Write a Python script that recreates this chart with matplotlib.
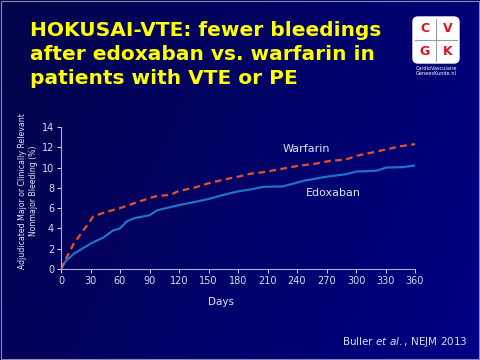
import matplotlib
matplotlib.use("Agg")
import matplotlib.pyplot as plt
import numpy as np
from matplotlib.patches import FancyBboxPatch, Rectangle

# Kaplan-Meier style cumulative incidence (%)
warfarin_days = [0, 6, 13, 22, 30, 33, 45, 60, 75, 90, 98, 111, 120, 135, 150, 165, 180,
                 193, 206, 223, 240, 260, 273, 290, 300, 317, 331, 345, 363]
warfarin_pct = [0.0, 1.2, 2.5, 3.7, 4.8, 5.2, 5.6, 6.0, 6.5, 7.0, 7.2, 7.3, 7.7, 8.0, 8.45,
                8.8, 9.1, 9.4, 9.55, 9.85, 10.15, 10.4, 10.65, 10.8, 11.15, 11.5, 11.8, 12.1, 12.35]

edoxaban_days = [0, 4, 13, 30, 43, 53, 60, 67, 74, 90, 98, 120, 138, 150, 165, 180,
                 193, 206, 226, 247, 270, 290, 300, 321, 331, 348, 363]
edoxaban_pct = [0.0, 0.7, 1.5, 2.5, 3.1, 3.8, 4.0, 4.7, 5.0, 5.3, 5.8, 6.3, 6.65, 6.9, 7.3,
                7.65, 7.85, 8.1, 8.15, 8.7, 9.1, 9.35, 9.6, 9.7, 10.0, 10.05, 10.25]

x_ticks = list(range(0, 361, 30))
y_ticks = list(range(0, 15, 2))

title_lines = ["HOKUSAI-VTE: fewer bleedings",
               "after edoxaban vs. warfarin in",
               "patients with VTE or PE"]
y_label = "Adjudicated Major or Clinically Relevant\nNonmajor Bleeding (%)"

W, H = 480, 360
fig = plt.figure(figsize=(4.8, 3.6), dpi=100)

# slide background: dark navy gradient, a bit lighter to the right
bg = fig.add_axes([0, 0, 1, 1])
gx = np.linspace(0, 1, 200)
gy = np.linspace(0, 1, 150)
GX, GY = np.meshgrid(gx, gy)
t = np.clip(0.75 * GX + 0.25 * GY, 0, 1)
img = np.zeros((150, 200, 3))
img[..., 0] = 0.015 * (1 - t)
img[..., 1] = 0.015 * (1 - t)
img[..., 2] = 0.29 + 0.23 * t
bg.imshow(img, extent=(0, W, H, 0), aspect="auto")
bg.set_xlim(0, W)
bg.set_ylim(H, 0)
bg.axis("off")
bg.add_patch(Rectangle((0.5, 0.5), W - 1.5, H - 1.5, fill=False, ec="#8a8ab0", lw=0.8))

# title, one line at a time on fixed baselines
for i, line in enumerate(title_lines):
    bg.text(30, 36 + 24 * i, line, color="#ffff00", fontsize=14.5, fontweight="bold",
            va="baseline", ha="left")

# logo
lx, ly, ls = 413, 17, 46
bg.add_patch(FancyBboxPatch((lx, ly), ls, ls, boxstyle="round,pad=0,rounding_size=5",
                            fc="white", ec="white"))
bg.plot([lx + ls / 2, lx + ls / 2], [ly + 2, ly + ls - 2], color="#9a9aa8", lw=0.8)
bg.plot([lx + 2, lx + ls - 2], [ly + ls / 2, ly + ls / 2], color="#9a9aa8", lw=0.8)
for letter, cx, cy in [("C", 0.25, 0.25), ("V", 0.75, 0.25), ("G", 0.25, 0.75), ("K", 0.75, 0.75)]:
    bg.text(lx + cx * ls, ly + cy * ls, letter, color="#e01020", fontsize=9,
            fontweight="bold", ha="center", va="center")
bg.text(lx + ls / 2, ly + ls + 3, "CardioVasculaire\nGeneesKunde.nl", color="white",
        fontsize=3.6, ha="center", va="top", linespacing=1.1)

# citation
bg.text(468, 342, "Buller $\\it{et\\ al.}$, NEJM 2013", color="#d8dcf0", fontsize=7.5,
        ha="right", va="center")

# chart
ax = fig.add_axes([61 / W, 1 - 269 / H, 354 / W, 142 / H])
ax.set_facecolor("none")
ax.plot(edoxaban_days, edoxaban_pct, color="#1f72c8", lw=1.6)
ax.plot(warfarin_days, warfarin_pct, color="#e8502a", lw=1.6, dashes=(3, 2))
ax.set_xlim(0, 360)
ax.set_ylim(0, 14)
ax.set_xticks(x_ticks)
ax.set_yticks(y_ticks)
tick_col = "#d8dcf0"
ax.tick_params(colors=tick_col, labelsize=7, length=3, width=0.7, pad=2)
for s in ["top", "right"]:
    ax.spines[s].set_visible(False)
for s in ["left", "bottom"]:
    ax.spines[s].set_color("#a8b0d8")
    ax.spines[s].set_linewidth(0.8)

ax.text(250, 11.8, "Warfarin", color="#e0e4f4", fontsize=8, ha="center", va="center")
ax.text(277, 7.5, "Edoxaban", color="#e0e4f4", fontsize=8, ha="center", va="center")

bg.text(221, 302, "Days", color="#e0e4f4", fontsize=7.5, ha="center", va="center")
bg.text(28, 191, y_label, color="#e0e4f4", fontsize=5.6, rotation=90,
        ha="center", va="center", linespacing=1.3)

fig.savefig("out.png", dpi=100)
